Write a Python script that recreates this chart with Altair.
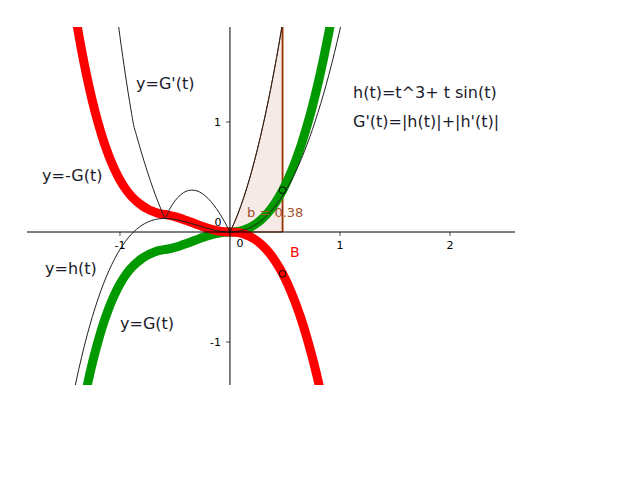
import altair as alt
import pandas as pd

# h(t) = t^3 + t sin(t)  (thin black curve)
t_h = [-1.45, -1.4, -1.35, -1.3, -1.25, -1.2, -1.15, -1.1, -1.05, -1.0, -0.95, -0.9,
       -0.85, -0.8, -0.75, -0.7, -0.65, -0.6, -0.55, -0.5, -0.45, -0.4, -0.35, -0.3,
       -0.25, -0.2, -0.15, -0.1, -0.05, 0.0, 0.05, 0.1, 0.15, 0.2, 0.25, 0.3, 0.35,
       0.4, 0.45, 0.5, 0.55, 0.6, 0.65, 0.7, 0.75, 0.8, 0.85, 0.9, 0.95, 1.0, 1.05]
h_vals = [-1.609, -1.364, -1.143, -0.944, -0.767, -0.610, -0.471, -0.351, -0.247, -0.159,
          -0.085, -0.024, 0.024, 0.062, 0.089, 0.108, 0.119, 0.123, 0.121, 0.115, 0.105,
          0.092, 0.077, 0.062, 0.046, 0.032, 0.019, 0.009, 0.002, 0.0, 0.003, 0.011,
          0.026, 0.048, 0.077, 0.116, 0.163, 0.220, 0.287, 0.365, 0.454, 0.555, 0.668,
          0.794, 0.933, 1.086, 1.253, 1.434, 1.630, 1.841, 2.068]

# G'(t) = |h(t)| + |h'(t)|  (thin black curve)
t_gp = [-1.05, -1.0, -0.95, -0.9, -0.877, -0.85, -0.8, -0.75, -0.7, -0.65, -0.6, -0.591,
        -0.55, -0.5, -0.45, -0.4, -0.35, -0.3, -0.25, -0.2, -0.15, -0.1, -0.05, -0.02,
        0.0, 0.02, 0.05, 0.1, 0.15, 0.2, 0.25, 0.3, 0.35, 0.4, 0.45, 0.5]
gp_vals = [2.164, 1.777, 1.426, 1.111, 0.979, 0.880, 0.707, 0.546, 0.398, 0.264, 0.143, 0.123,
           0.205, 0.283, 0.337, 0.370, 0.381, 0.374, 0.348, 0.306, 0.249, 0.178, 0.095, 0.039,
           0.0, 0.042, 0.110, 0.240, 0.391, 0.562, 0.755, 0.968, 1.202, 1.458, 1.735, 2.033]

# G(t) (thick green) and -G(t) (thick red)
t_g = [-1.45, -1.4, -1.35, -1.3, -1.25, -1.2, -1.15, -1.1, -1.05, -1.0, -0.95, -0.9, -0.877,
       -0.85, -0.8, -0.75, -0.7, -0.65, -0.6, -0.591, -0.55, -0.5, -0.45, -0.4, -0.35, -0.3,
       -0.25, -0.2, -0.15, -0.1, -0.05, 0.0, 0.05, 0.1, 0.15, 0.2, 0.25, 0.3, 0.35, 0.4,
       0.45, 0.5, 0.55, 0.6, 0.65, 0.7, 0.75, 0.8, 0.85, 0.9, 0.95]
g_vals = [-2.262, -1.943, -1.659, -1.409, -1.188, -0.997, -0.831, -0.690, -0.572, -0.473,
          -0.393, -0.330, -0.306, -0.281, -0.241, -0.210, -0.187, -0.170, -0.160, -0.159,
          -0.152, -0.140, -0.124, -0.106, -0.088, -0.069, -0.050, -0.034, -0.020, -0.009,
          -0.002, 0.0, 0.003, 0.011, 0.027, 0.051, 0.084, 0.127, 0.181, 0.247, 0.327, 0.421,
          0.531, 0.657, 0.800, 0.963, 1.145, 1.348, 1.574, 1.822, 2.095]
neg_g_vals = [2.262, 1.943, 1.659, 1.409, 1.188, 0.997, 0.831, 0.690, 0.572, 0.473,
              0.393, 0.330, 0.306, 0.281, 0.241, 0.210, 0.187, 0.170, 0.160, 0.159,
              0.152, 0.140, 0.124, 0.106, 0.088, 0.069, 0.050, 0.034, 0.020, 0.009,
              0.002, 0.0, -0.003, -0.011, -0.027, -0.051, -0.084, -0.127, -0.181, -0.247,
              -0.327, -0.421, -0.531, -0.657, -0.800, -0.963, -1.145, -1.348, -1.574,
              -1.822, -2.095]

# shaded integral of G' from 0 to b
t_area = [0.0, 0.02, 0.05, 0.1, 0.15, 0.2, 0.25, 0.3, 0.35, 0.4, 0.45, 0.478]
area_vals = [0.0, 0.042, 0.110, 0.240, 0.391, 0.562, 0.755, 0.968, 1.202, 1.458, 1.735, 1.902]
area_base = [0.0] * len(t_area)

# points at t = b
pt_t = [0.478, 0.478]
pt_v = [0.38, -0.38]
pt_name = ["G", "B"]

x_ticks = [-1, 1, 2]
x_tick_labels = ["-1", "1", "2"]
y_ticks = [-1, 1]
y_tick_labels = ["-1", "1"]

X_DOMAIN = [-1.845, 2.591]
Y_DOMAIN = [-1.391, 1.864]
W, H = 488, 358
OX, OY = 27, 27  # page position of plot origin

xs = alt.Scale(domain=X_DOMAIN, nice=False, zero=False)
ys = alt.Scale(domain=Y_DOMAIN, nice=False, zero=False)
FONT = "DejaVu Sans"


def X(f):
    return alt.X(f, type="quantitative", scale=xs, axis=None)


def Y(f):
    return alt.Y(f, type="quantitative", scale=ys, axis=None)


df_h = pd.DataFrame({"t": t_h, "v": h_vals})
df_gp = pd.DataFrame({"t": t_gp, "v": gp_vals})
df_g = pd.DataFrame({"t": t_g, "v": g_vals})
df_ng = pd.DataFrame({"t": t_g, "v": neg_g_vals})
df_area = pd.DataFrame({"t": t_area, "v": area_vals, "b": area_base})
df_edge = pd.DataFrame({"t": [t_area[-1]], "v": [area_vals[-1]], "b": [0.0]})
df_pt = pd.DataFrame({"t": pt_t, "v": pt_v, "name": pt_name})
df_xt = pd.DataFrame({"t": x_ticks, "lab": x_tick_labels, "z": [0.0] * len(x_ticks)})
df_yt = pd.DataFrame({"v": y_ticks, "lab": y_tick_labels, "z": [0.0] * len(y_ticks)})
df_origin = pd.DataFrame({"t": [0.0], "v": [0.0]})

BROWN = "#993300"

area = alt.Chart(df_area).mark_area(
    clip=True, color=BROWN, fillOpacity=0.1, stroke=BROWN, strokeWidth=1,
    interpolate="monotone"
).encode(x=X("t"), y=Y("v"), y2="b:Q")

edge = alt.Chart(df_edge).mark_rule(clip=True, color=BROWN, strokeWidth=1.8).encode(
    x=X("t"), y=Y("v"), y2="b:Q"
)

green = alt.Chart(df_g).mark_line(
    clip=True, color="#009900", strokeWidth=9, interpolate="monotone"
).encode(x=X("t"), y=Y("v"), order="t:Q")

red = alt.Chart(df_ng).mark_line(
    clip=True, color="#ff0000", strokeWidth=9, interpolate="monotone"
).encode(x=X("t"), y=Y("v"), order="t:Q")

hline = alt.Chart(df_h).mark_line(
    clip=True, color="#222222", strokeWidth=1, interpolate="monotone"
).encode(x=X("t"), y=Y("v"), order="t:Q")

gpline = alt.Chart(df_gp).mark_line(
    clip=True, color="#222222", strokeWidth=1, interpolate="monotone"
).encode(x=X("t"), y=Y("v"), order="t:Q")

# axes through the origin (rules spanning the whole plot)
xaxis = alt.Chart(df_origin).mark_rule(color="black", strokeWidth=1).encode(y=Y("v"))
yaxis = alt.Chart(df_origin).mark_rule(color="black", strokeWidth=1).encode(x=X("t"))

xtick = alt.Chart(df_xt).mark_tick(
    color="black", thickness=1, size=4, yOffset=2, orient="vertical"
).encode(x=X("t"), y=Y("z"))
ytick = alt.Chart(df_yt).mark_tick(
    color="black", thickness=1, size=4, xOffset=-2, orient="horizontal"
).encode(y=Y("v"), x=X("z"))

xlab = alt.Chart(df_xt).mark_text(
    font=FONT, fontSize=11, color="black", baseline="alphabetic", align="center", dy=17
).encode(x=X("t"), y=Y("z"), text="lab:N")
ylab = alt.Chart(df_yt).mark_text(
    font=FONT, fontSize=11, color="black", baseline="alphabetic", align="right", dx=-9, dy=4
).encode(y=Y("v"), x=X("z"), text="lab:N")
zero_x = alt.Chart(df_origin).mark_text(
    font=FONT, fontSize=11, color="black", baseline="alphabetic", align="center",
    dx=10, dy=15, text="0"
).encode(x=X("t"), y=Y("v"))
zero_y = alt.Chart(df_origin).mark_text(
    font=FONT, fontSize=11, color="black", baseline="alphabetic", align="center",
    dx=-12, dy=-6, text="0"
).encode(x=X("t"), y=Y("v"))

pt_colors = alt.Color("name:N", scale=alt.Scale(domain=["G", "B"], range=["#009900", "#ff0000"]), legend=None)
points = alt.Chart(df_pt).mark_point(
    filled=True, shape="circle", size=45, stroke="black", strokeWidth=1, opacity=1
).encode(x=X("t"), y=Y("v"), fill=pt_colors)


def label(txt, px, py, size=16, color="#1a1a2a"):
    return alt.Chart(df_origin).mark_text(
        text=txt, font=FONT, fontSize=size, color=color,
        align="left", baseline="alphabetic"
    ).encode(x=alt.value(px - OX), y=alt.value(py - OY))


labels = [
    label("y=G'(t)", 136, 89),
    label("y=-G(t)", 42, 181),
    label("y=h(t)", 45, 274),
    label("y=G(t)", 120, 329),
    label("h(t)=t^3+ t sin(t)", 353, 98),
    label("G'(t)=|h(t)|+|h'(t)|", 353, 127),
    label("b = 0.38", 247, 217, size=13, color="#a0522d"),
    label("B", 290, 257, size=14, color="#ff0000"),
]

chart = alt.layer(
    area, edge, green, red, hline, gpline, xaxis, yaxis, xtick, ytick, xlab, ylab,
    zero_x, zero_y, points, *labels
).properties(
    width=W, height=H,
    autosize=alt.AutoSizeParams(type="none"),
    padding={"left": OX - 8, "top": OY - 8, "right": 5, "bottom": 5},
    background="white",
).configure_view(stroke=None)

chart.save("out.html", embed_options={"renderer": "svg", "actions": False})
